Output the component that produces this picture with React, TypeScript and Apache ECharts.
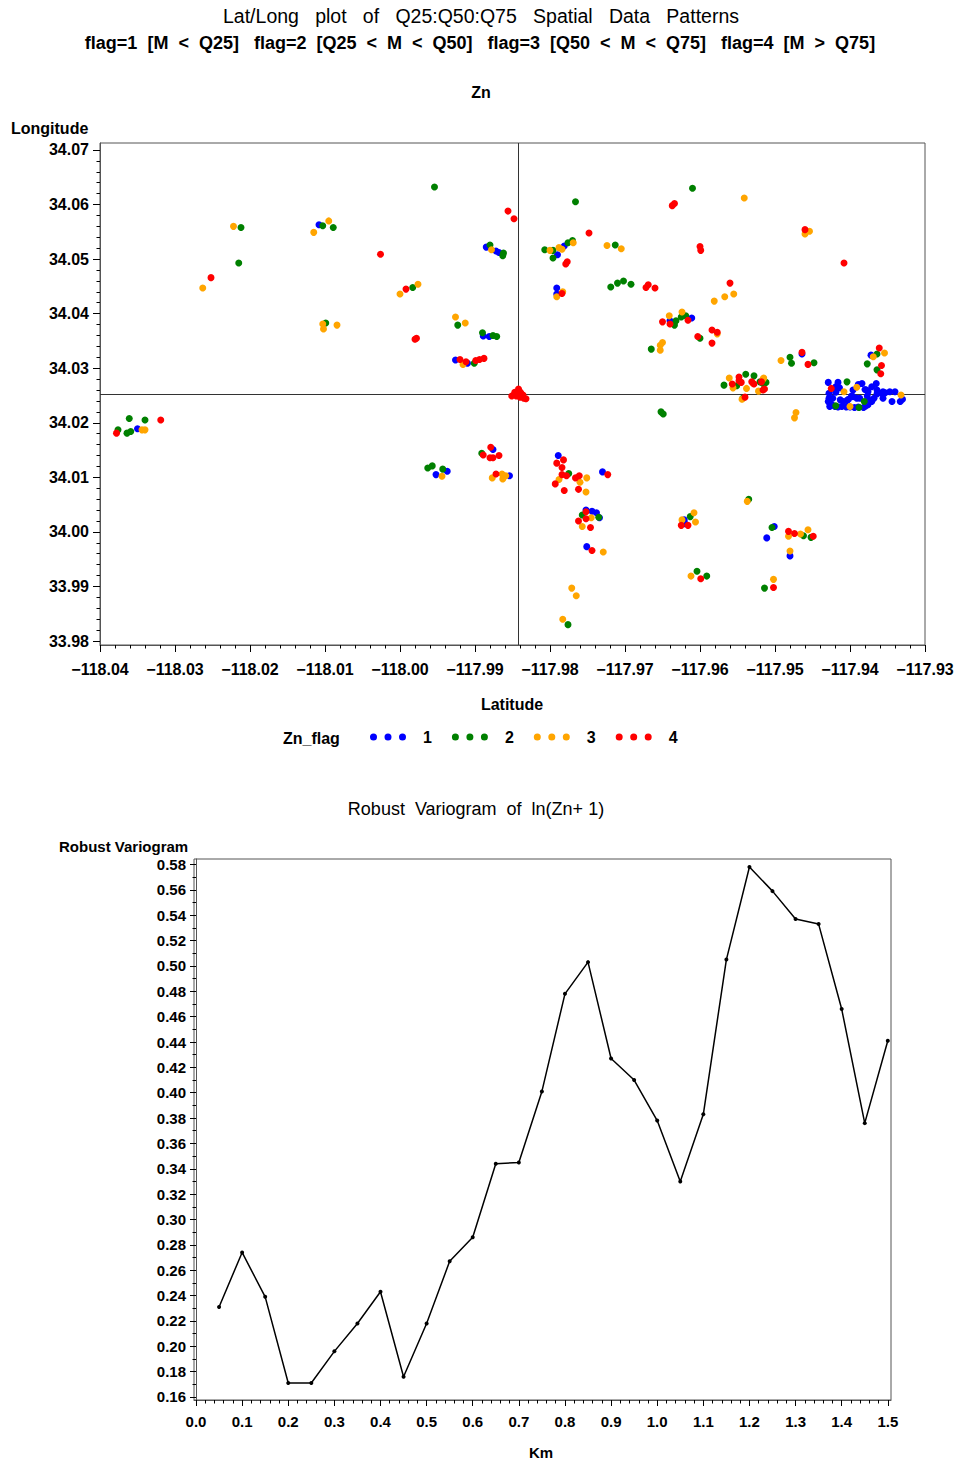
import { useEffect, useRef } from "react";
import * as echarts from "echarts";

const FONT = '"Liberation Sans", Arial, Helvetica, sans-serif';

// ---------- Lat/Long scatter: [longitude, latitude] per Zn flag ----------
const flag1Points: number[][] = [
  [-118.035, 34.0189], [-118.0108, 34.0563], [-117.9885, 34.0522], [-117.9872, 34.0515],
  [-117.9868, 34.0512], [-117.9889, 34.0359], [-117.9881, 34.0358], [-117.9926, 34.0315],
  [-117.991, 34.0309], [-117.979, 34.0508], [-117.9781, 34.0524], [-117.9791, 34.0447],
  [-117.9791, 34.0436], [-117.964, 34.0387], [-117.9611, 34.0392], [-117.9464, 34.0326],
  [-117.9372, 34.0324], [-117.9952, 34.0105], [-117.9937, 34.0111], [-117.9876, 34.0151],
  [-117.9854, 34.0103], [-117.9789, 34.014], [-117.973, 34.011], [-117.9752, 34.004],
  [-117.9744, 34.0038], [-117.9738, 34.0035], [-117.9734, 34.0026], [-117.9751, 33.9973],
  [-117.9621, 34.0022], [-117.962, 34.0015], [-117.9501, 34.001], [-117.9511, 33.9989],
  [-117.948, 33.9956],
  [-117.9429, 34.0274], [-117.9416, 34.0274], [-117.9384, 34.0272], [-117.9365, 34.0272],
  [-117.9419, 34.0266], [-117.9414, 34.0264], [-117.9396, 34.026], [-117.938, 34.0261],
  [-117.9378, 34.026], [-117.9376, 34.0257], [-117.9364, 34.026], [-117.9364, 34.0253],
  [-117.9428, 34.0254], [-117.9428, 34.0245], [-117.9429, 34.0239], [-117.9427, 34.0236],
  [-117.9424, 34.0233], [-117.9427, 34.023], [-117.942, 34.023], [-117.9411, 34.023],
  [-117.9405, 34.0229], [-117.9394, 34.0228], [-117.9382, 34.0228], [-117.9376, 34.0233],
  [-117.9371, 34.0239], [-117.9368, 34.0245], [-117.9404, 34.0241], [-117.9409, 34.0239],
  [-117.9413, 34.0242], [-117.9402, 34.0243], [-117.9398, 34.0249], [-117.9396, 34.0248],
  [-117.9391, 34.0245], [-117.9387, 34.0245], [-117.9376, 34.0243], [-117.9358, 34.0254],
  [-117.9353, 34.0255], [-117.9356, 34.0245], [-117.9347, 34.0257], [-117.934, 34.0257],
  [-117.9344, 34.0239], [-117.933, 34.0243], [-117.9333, 34.0239], [-117.9356, 34.0257],
  [-117.9371, 34.0266], [-117.9389, 34.027], [-117.9419, 34.0256], [-117.9423, 34.0245],
  [-117.9377, 34.0249], [-117.9416, 34.0229], [-117.94, 34.0229], [-117.9389, 34.0229],
  [-117.9379, 34.0231],
];

const flag2Points: number[][] = [
  [-118.0212, 34.0558], [-118.0215, 34.0493], [-118.0361, 34.0208], [-118.034, 34.0205],
  [-118.0376, 34.0187], [-118.0364, 34.0181], [-118.0359, 34.0184], [-117.9954, 34.0632],
  [-118.0103, 34.0561], [-118.0089, 34.0558], [-117.988, 34.0526], [-117.9862, 34.0511],
  [-117.9863, 34.0506], [-117.9983, 34.0448], [-118.0099, 34.0383], [-117.9923, 34.0379],
  [-117.989, 34.0365], [-117.9876, 34.036], [-117.9871, 34.0358], [-117.9901, 34.0309],
  [-117.9766, 34.0605], [-117.961, 34.063], [-117.9807, 34.0517], [-117.9796, 34.0516],
  [-117.9796, 34.0502], [-117.9776, 34.053], [-117.977, 34.0534], [-117.9713, 34.0526],
  [-117.9719, 34.0449], [-117.971, 34.0456], [-117.9702, 34.046], [-117.9692, 34.0454],
  [-117.9632, 34.0387], [-117.9634, 34.0379], [-117.9625, 34.0394], [-117.9619, 34.0396],
  [-117.96, 34.0355], [-117.9665, 34.0335], [-117.948, 34.032], [-117.9478, 34.0309],
  [-117.9448, 34.031], [-117.9364, 34.0326], [-117.9377, 34.0308], [-117.9364, 34.0297],
  [-117.9539, 34.0289], [-117.9528, 34.0286], [-117.9568, 34.0269], [-117.9551, 34.0268],
  [-117.952, 34.0275], [-117.9516, 34.0272], [-117.9512, 34.0274], [-117.9543, 34.0245],
  [-117.9404, 34.0275], [-117.9419, 34.0231], [-117.9388, 34.0228], [-117.9381, 34.0239],
  [-117.9652, 34.022], [-117.9649, 34.0216], [-117.9963, 34.0117], [-117.9957, 34.0121],
  [-117.9943, 34.0115], [-117.9891, 34.0144], [-117.9775, 34.0107], [-117.9757, 34.0031],
  [-117.9735, 34.0027], [-117.9776, 33.983], [-117.9535, 34.006], [-117.9613, 34.0028],
  [-117.9504, 34.0008], [-117.9462, 33.9993], [-117.9452, 33.999], [-117.9604, 33.9928],
  [-117.9591, 33.9919], [-117.9514, 33.9897],
];

const flag3Points: number[][] = [
  [-118.0222, 34.056], [-118.0263, 34.0447], [-118.0344, 34.0187], [-118.034, 34.0187],
  [-118.0095, 34.057], [-118.0115, 34.0549], [-117.9878, 34.0517], [-117.9976, 34.0454],
  [-118.0, 34.0436], [-118.0103, 34.0381], [-118.0084, 34.0379], [-118.0102, 34.0372],
  [-117.9926, 34.0394], [-117.9913, 34.0383], [-117.9916, 34.0307], [-117.98, 34.0516],
  [-117.9788, 34.0521], [-117.9784, 34.0518], [-117.9769, 34.053], [-117.9724, 34.0525],
  [-117.9705, 34.0519], [-117.9791, 34.0431], [-117.9783, 34.044], [-117.9581, 34.0423],
  [-117.9641, 34.0396], [-117.9624, 34.0403], [-117.9577, 34.0363], [-117.965, 34.0347],
  [-117.9653, 34.0342], [-117.9653, 34.0333], [-117.9541, 34.0612], [-117.9454, 34.0551],
  [-117.946, 34.0546], [-117.9567, 34.0431], [-117.9555, 34.0436], [-117.9492, 34.0314],
  [-117.9369, 34.0321], [-117.9354, 34.0328], [-117.9561, 34.0282], [-117.9515, 34.0282],
  [-117.9556, 34.0264], [-117.9538, 34.0263], [-117.9529, 34.0272], [-117.9516, 34.028],
  [-117.9522, 34.0258], [-117.9544, 34.0243], [-117.9472, 34.0219], [-117.9474, 34.0209],
  [-117.9408, 34.0257], [-117.9391, 34.0265], [-117.94, 34.023], [-117.9332, 34.0251],
  [-117.9944, 34.0102], [-117.9877, 34.0099], [-117.9864, 34.0106], [-117.9859, 34.0103],
  [-117.9863, 34.0097], [-117.9788, 34.0096], [-117.976, 34.0091], [-117.9751, 34.0099],
  [-117.9752, 34.0073], [-117.9745, 34.0026], [-117.9757, 34.001], [-117.9729, 33.9963],
  [-117.9771, 33.9897], [-117.9765, 33.9883], [-117.9783, 33.984], [-117.9537, 34.0056],
  [-117.9624, 34.0022], [-117.9608, 34.0035], [-117.9606, 34.0018], [-117.9482, 33.9992],
  [-117.9466, 33.9996], [-117.9456, 34.0004], [-117.948, 33.9965], [-117.9612, 33.9919],
  [-117.9502, 33.9913],
];

const flag4Points: number[][] = [
  [-118.0252, 34.0466], [-118.0319, 34.0205], [-118.0378, 34.0181], [-118.0026, 34.0509],
  [-117.9856, 34.0588], [-117.9848, 34.0574], [-117.9992, 34.0445], [-117.998, 34.0353],
  [-117.9978, 34.0355], [-117.992, 34.0316], [-117.9912, 34.0312], [-117.9899, 34.0314],
  [-117.9894, 34.0316], [-117.9888, 34.0318],
  [-117.9847, 34.0256], [-117.9844, 34.0253], [-117.9841, 34.0258], [-117.9839, 34.0255],
  [-117.9836, 34.0251], [-117.9845, 34.0249], [-117.984, 34.0247], [-117.9835, 34.0245],
  [-117.9832, 34.0244], [-117.9851, 34.0249], [-117.9842, 34.0262],
  [-117.9634, 34.0602], [-117.9637, 34.0598], [-117.9748, 34.0548], [-117.9777, 34.0495],
  [-117.9779, 34.0491], [-117.96, 34.0523], [-117.9599, 34.0516], [-117.9669, 34.0453],
  [-117.9672, 34.0448], [-117.966, 34.0447], [-117.9784, 34.0437], [-117.965, 34.0385],
  [-117.964, 34.0381], [-117.9616, 34.0388], [-117.9603, 34.0358], [-117.9584, 34.037],
  [-117.9577, 34.0366], [-117.9584, 34.0346], [-117.946, 34.0554], [-117.9408, 34.0493],
  [-117.956, 34.0456], [-117.9464, 34.0329], [-117.9456, 34.0307], [-117.9361, 34.0337],
  [-117.9358, 34.0305], [-117.9359, 34.029], [-117.9548, 34.0284], [-117.9557, 34.0271],
  [-117.9548, 34.0277], [-117.9545, 34.0274], [-117.9531, 34.0275], [-117.9528, 34.0271],
  [-117.9518, 34.0275], [-117.9516, 34.026], [-117.9514, 34.0262], [-117.954, 34.0247],
  [-117.9425, 34.0263], [-117.9879, 34.0155], [-117.9889, 34.0141], [-117.988, 34.0136],
  [-117.9876, 34.0136], [-117.9868, 34.014], [-117.9872, 34.0106], [-117.9791, 34.0126],
  [-117.9782, 34.0132], [-117.9784, 34.0118], [-117.9784, 34.0105], [-117.9778, 34.0103],
  [-117.9793, 34.0088], [-117.9781, 34.0076], [-117.9766, 34.0099], [-117.9761, 34.0103],
  [-117.9762, 34.0078], [-117.9723, 34.0105], [-117.9752, 34.0037], [-117.9752, 34.0024],
  [-117.9762, 34.002], [-117.9746, 34.0008], [-117.9744, 33.9966], [-117.9625, 34.0012],
  [-117.9616, 34.0012], [-117.9482, 34.0001], [-117.9474, 33.9997], [-117.9449, 33.9992],
  [-117.9599, 33.9914], [-117.9502, 33.9898],
];

const flagNames = ["1", "2", "3", "4"];
const flagColors = ["#0000ff", "#008000", "#ffa500", "#ff0000"];

// median reference lines
const refLongitude = -117.9842;
const refLatitude = 34.0252;

// axis ticks
const latTicks = [33.98, 33.99, 34.0, 34.01, 34.02, 34.03, 34.04, 34.05, 34.06, 34.07];
const kmTicks = [0.0, 0.1, 0.2, 0.3, 0.4, 0.5, 0.6, 0.7, 0.8, 0.9, 1.0, 1.1, 1.2, 1.3, 1.4, 1.5];
const variogramTicks = [
  0.16, 0.18, 0.2, 0.22, 0.24, 0.26, 0.28, 0.3, 0.32, 0.34, 0.36, 0.38, 0.4,
  0.42, 0.44, 0.46, 0.48, 0.5, 0.52, 0.54, 0.56, 0.58,
];

// ---------- Robust variogram of ln(Zn+1) ----------
const lagKm = [
  0.05, 0.1, 0.15, 0.2, 0.25, 0.3, 0.35, 0.4, 0.45, 0.5, 0.55, 0.6, 0.65, 0.7, 0.75,
  0.8, 0.85, 0.9, 0.95, 1.0, 1.05, 1.1, 1.15, 1.2, 1.25, 1.3, 1.35, 1.4, 1.45, 1.5,
];
const robustVariogram = [
  0.231, 0.274, 0.239, 0.171, 0.171, 0.196, 0.218, 0.243, 0.176, 0.218, 0.267, 0.286,
  0.344, 0.345, 0.401, 0.478, 0.503, 0.427, 0.41, 0.378, 0.33, 0.383, 0.505, 0.578,
  0.559, 0.537, 0.533, 0.466, 0.376, 0.441,
];

// frame extents (the plot frame sits slightly outside the end ticks)
const LAT_MIN = 33.97927;
const LAT_MAX = 34.07128;
const KM_MIN = -0.00434;
const KM_MAX = 1.50694;
const VG_MIN = 0.15763;
const VG_MAX = 0.58434;

const FRAME = "#555555";

const between = (major: number[], split: number, digits: number) => {
  const out: number[] = [];
  for (let i = 0; i < major.length - 1; i++) {
    const step = (major[i + 1] - major[i]) / split;
    for (let k = 1; k < split; k++) out.push(+(major[i] + step * k).toFixed(digits));
  }
  return out;
};

const spaced = (s: string, n: number) => s.split(" ").join(" " + "\u00a0".repeat(n - 1));

const DOTS =
  "path://M0,3.5a3.5,3.5 0 1,0 7,0a3.5,3.5 0 1,0 -7,0Z" +
  "M14.5,3.5a3.5,3.5 0 1,0 7,0a3.5,3.5 0 1,0 -7,0Z" +
  "M29,3.5a3.5,3.5 0 1,0 7,0a3.5,3.5 0 1,0 -7,0Z";

const labelStyle = (size: number) => ({
  fontFamily: FONT,
  fontSize: size,
  fontWeight: "bold" as const,
  color: "#000",
});

const text = (
  str: string,
  x: number,
  y: number,
  size: number,
  bold: boolean,
  align: "left" | "center" = "center"
) => ({
  type: "text",
  x,
  y,
  silent: true,
  style: {
    text: str,
    fill: "#000",
    fontFamily: FONT,
    fontSize: size,
    fontWeight: bold ? "bold" : "normal",
    textAlign: align,
    textVerticalAlign: "middle",
  },
});

const minorAxis = (gridIndex: number, position: string, min: number, max: number, ticks: number[]) => ({
  gridIndex,
  type: "value",
  position,
  offset: 0,
  min,
  max,
  axisLine: { show: false },
  axisTick: { show: true, length: 3.5, customValues: ticks, lineStyle: { color: "#000" } },
  splitLine: { show: false },
  axisLabel: { show: false },
});

function buildOption() {
  const pointSeries = [flag1Points, flag2Points, flag3Points, flag4Points].map((pts, i) => ({
    name: flagNames[i],
    type: "scatter",
    xAxisIndex: 0,
    yAxisIndex: 0,
    symbol: "circle",
    symbolSize: 7,
    itemStyle: { color: flagColors[i], opacity: 1 },
    data: pts,
    z: 3,
    ...(i === 0
      ? {
          markLine: {
            silent: true,
            precision: 6,
            symbol: ["none", "none"],
            label: { show: false },
            lineStyle: { color: "#333", width: 1, type: "solid" },
            data: [{ xAxis: refLongitude }, { yAxis: refLatitude }],
            z: 2,
          },
        }
      : {}),
  }));

  const subtitle =
    spaced("flag=1 [M < Q25]", 2) + " \u00a0\u00a0" +
    spaced("flag=2 [Q25 < M < Q50]", 2) + " \u00a0\u00a0" +
    spaced("flag=3 [Q50 < M < Q75]", 2) + " \u00a0\u00a0" +
    spaced("flag=4 [M > Q75]", 2);

  return {
    animation: false,
    backgroundColor: "#ffffff",
    textStyle: { fontFamily: FONT },
    grid: [
      { left: 100, top: 143, width: 825, height: 502, show: true, borderColor: FRAME, borderWidth: 1, backgroundColor: "transparent" },
      { left: 194, top: 859, width: 697, height: 541, show: true, borderColor: FRAME, borderWidth: 1, backgroundColor: "transparent" },
    ],
    xAxis: [
      {
        gridIndex: 0,
        type: "value",
        position: "bottom",
        min: -118.04,
        max: -117.93,
        interval: 0.01,
        axisLine: { show: true, lineStyle: { color: FRAME, width: 1 } },
        axisTick: { show: true, length: 7, lineStyle: { color: "#000" } },
        minorTick: { show: true, splitNumber: 5, length: 3.5, lineStyle: { color: "#000" } },
        splitLine: { show: false },
        minorSplitLine: { show: false },
        axisLabel: {
          ...labelStyle(16),
          margin: 16,
          showMinLabel: true,
          showMaxLabel: true,
          formatter: (v: number) => (v < 0 ? "\u2212" : "") + Math.abs(v).toFixed(2),
        },
      },
      {
        gridIndex: 1,
        type: "value",
        position: "bottom",
        min: KM_MIN,
        max: KM_MAX,
        axisLine: { show: true, lineStyle: { color: FRAME, width: 1 } },
        axisTick: { show: true, length: 6, customValues: kmTicks, lineStyle: { color: "#000" } },
        splitLine: { show: false },
        axisLabel: {
          ...labelStyle(15),
          margin: 14,
          customValues: kmTicks,
          formatter: (v: number) => v.toFixed(1),
        },
      },
      minorAxis(1, "bottom", KM_MIN, KM_MAX, between(kmTicks, 5, 3)),
    ],
    yAxis: [
      {
        gridIndex: 0,
        type: "value",
        position: "left",
        min: LAT_MIN,
        max: LAT_MAX,
        axisLine: { show: true, lineStyle: { color: FRAME, width: 1 } },
        axisTick: { show: true, length: 7, customValues: latTicks, lineStyle: { color: "#000" } },
        splitLine: { show: false },
        axisLabel: {
          ...labelStyle(16),
          margin: 11,
          customValues: latTicks,
          formatter: (v: number) => v.toFixed(2),
        },
      },
      minorAxis(0, "left", LAT_MIN, LAT_MAX, between(latTicks, 5, 4)),
      {
        gridIndex: 1,
        type: "value",
        position: "left",
        min: VG_MIN,
        max: VG_MAX,
        axisLine: { show: true, lineStyle: { color: FRAME, width: 1 } },
        axisTick: { show: true, length: 6, customValues: variogramTicks, lineStyle: { color: "#000" } },
        splitLine: { show: false },
        axisLabel: {
          ...labelStyle(15),
          margin: 8,
          customValues: variogramTicks,
          formatter: (v: number) => v.toFixed(2),
        },
      },
      minorAxis(1, "left", VG_MIN, VG_MAX, between(variogramTicks, 2, 3)),
    ],
    legend: {
      data: flagNames,
      left: 370,
      top: 729,
      padding: 0,
      orient: "horizontal",
      icon: DOTS,
      itemWidth: 36,
      itemHeight: 7,
      itemGap: 20,
      selectedMode: false,
      textStyle: { ...labelStyle(16), padding: [0, 0, 0, 12] },
    },
    graphic: [
      text(spaced("Lat/Long plot of Q25:Q50:Q75 Spatial Data Patterns", 3), 481, 16, 19.5, false),
      text(subtitle, 480, 43, 18, true),
      text("Zn", 481, 92, 16, true),
      text("Longitude", 11, 128, 16, true, "left"),
      text("Latitude", 512, 704, 16, true),
      text("Zn_flag", 283, 738, 16, true, "left"),
      text(spaced("Robust Variogram of", 2) + " \u00a0ln(Zn+ 1)", 476, 809, 18, false),
      text("Robust Variogram", 59, 846, 15, true, "left"),
      text("Km", 541, 1452, 15, true),
    ],
    series: [
      ...pointSeries,
      {
        name: "Robust Variogram",
        type: "line",
        xAxisIndex: 1,
        yAxisIndex: 2,
        data: lagKm.map((k, i) => [k, robustVariogram[i]]),
        symbol: "circle",
        symbolSize: 4,
        showSymbol: true,
        lineStyle: { color: "#000", width: 1.5 },
        itemStyle: { color: "#000" },
        z: 3,
      },
    ],
  };
}

export default function App() {
  const ref = useRef<HTMLDivElement>(null);
  useEffect(() => {
    if (!ref.current) return;
    const chart = echarts.init(ref.current, null, { renderer: "svg" });
    chart.setOption(buildOption() as any);
    return () => chart.dispose();
  }, []);
  return (
    <div
      ref={ref}
      style={{ position: "absolute", left: 0, top: 0, width: 957, height: 1464, background: "#fff" }}
    />
  );
}
